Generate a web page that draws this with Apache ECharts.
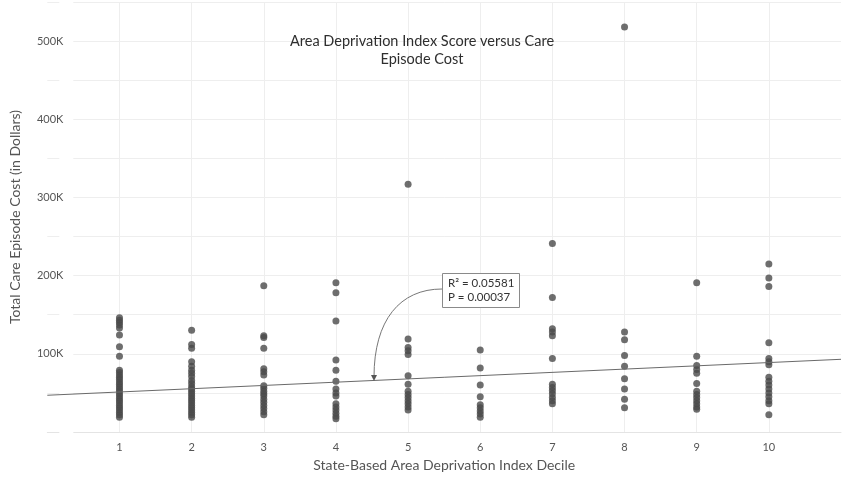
<!DOCTYPE html>
<html>
<head>
<meta charset="utf-8">
<script src="https://cdn.jsdelivr.net/npm/echarts@6/dist/echarts.min.js"></script>
<style>html,body{margin:0;padding:0;background:#fff}#c{width:844px;height:477px}</style>
</head>
<body>
<div id="c"></div>
<script>
var deciles = [1, 2, 3, 4, 5, 6, 7, 8, 9, 10];
var cost1 = [146000, 143000, 140000, 137000, 133000, 124000, 109000, 97000, 79000, 76000, 73000, 70000, 67000, 64000, 61000, 58000, 55000, 52000, 49000, 46000, 43000, 40000, 37000, 34000, 31000, 28000, 25000, 22000, 19000];
var cost2 = [130000, 112000, 107000, 90000, 84000, 79000, 75000, 71000, 66000, 62000, 58000, 55000, 52000, 49000, 46000, 43000, 40000, 37000, 34000, 31000, 28000, 25000, 22000, 19000];
var cost3 = [187000, 123000, 121000, 107000, 81000, 77000, 73000, 59000, 56000, 52000, 49000, 46000, 42000, 38000, 34000, 30000, 26000, 22000];
var cost4 = [191000, 178000, 142000, 92000, 79000, 65000, 55000, 50000, 46000, 36000, 32000, 28000, 24000, 20000, 17000];
var cost5 = [317000, 119000, 108000, 104000, 99000, 72000, 61000, 52000, 48000, 44000, 40000, 36000, 32000, 28000];
var cost6 = [105000, 82000, 60000, 45000, 35000, 31000, 27000, 23000, 19000];
var cost7 = [241000, 172000, 132000, 128000, 123000, 94000, 61000, 57000, 53000, 49000, 44000, 40000, 36000];
var cost8 = [518000, 128000, 118000, 98000, 84000, 68000, 55000, 42000, 31000];
var cost9 = [191000, 97000, 85000, 80000, 75000, 62000, 52000, 48000, 44000, 40000, 36000, 32000, 29000];
var cost10 = [215000, 197000, 186000, 114000, 94000, 90000, 86000, 70000, 65000, 60000, 55000, 50000, 45000, 40000, 36000, 22000];
var costsByDecile = [cost1, cost2, cost3, cost4, cost5, cost6, cost7, cost8, cost9, cost10];
var fitX = [0, 11];
var fitY = [47000, 93000];
var yTickLabels = ['100K', '200K', '300K', '400K', '500K'];
var titleText = 'Area Deprivation Index Score versus Care\nEpisode Cost';
var statText = ['R\u00b2 = 0.05581', 'P = 0.00037'];

var scatterData = [];
deciles.forEach(function (d, i) {
  costsByDecile[i].forEach(function (v) { scatterData.push([d, v]); });
});
var fitData = fitX.map(function (x, i) { return [x, fitY[i]]; });

var FONT = 'Lato, "Open Sans", sans-serif';
var chart = echarts.init(document.getElementById('c'), null, { renderer: 'canvas' });
chart.setOption({
  backgroundColor: '#fff',
  animation: false,
  title: {
    text: titleText,
    left: 'center',
    top: 27,
    textStyle: { fontFamily: FONT, fontSize: 14.5, fontWeight: 'normal', color: '#2e2e2e', lineHeight: 18 }
  },
  grid: { left: 46, right: 3, top: 0, bottom: 37 },
  xAxis: {
    type: 'value', min: 0, max: 11, interval: 1,
    name: 'State-Based Area Deprivation Index Decile',
    nameLocation: 'middle', nameGap: 26,
    nameTextStyle: { fontFamily: FONT, fontSize: 14, color: '#555' },
    axisLine: { show: true, lineStyle: { color: '#e4e4e4', width: 1 } },
    axisTick: { show: false },
    splitLine: { show: false },
    axisLabel: {
      fontFamily: FONT, fontSize: 11, color: '#555', margin: 10,
      formatter: function (v) { return deciles.indexOf(v) >= 0 ? String(v) : ''; }
    }
  },
  yAxis: {
    type: 'value', min: 0, max: 550000, interval: 50000,
    name: 'Total Care Episode Cost (in Dollars)',
    nameLocation: 'middle', nameGap: 24, nameRotate: 90,
    nameTextStyle: { fontFamily: FONT, fontSize: 14, color: '#555' },
    axisLine: { show: false },
    axisTick: { show: false },
    splitLine: { show: true, lineStyle: { color: '#eeeeee', width: 1 } },
    axisLabel: {
      fontFamily: FONT, fontSize: 11, color: '#555', margin: -26,
      backgroundColor: '#fff', padding: [2, 10, 2, 4],
      formatter: function (v) {
        var s = (v / 1000) + 'K';
        return yTickLabels.indexOf(s) >= 0 ? s : '';
      }
    }
  },
  series: [
    {
      type: 'scatter',
      data: scatterData,
      symbolSize: 7,
      itemStyle: { color: '#4a4a4a' },
      z: 3,
      markLine: {
        silent: true, symbol: 'none', label: { show: false },
        lineStyle: { color: '#eeeeee', width: 1, type: 'solid' },
        data: deciles.map(function (d) { return { xAxis: d }; }),
        z: 1
      }
    },
    {
      type: 'line',
      data: fitData,
      showSymbol: false,
      lineStyle: { color: '#6a6a6a', width: 1 },
      z: 4
    }
  ],
  graphic: [
    {
      type: 'rect', shape: { x: 442.5, y: 273.5, width: 77, height: 34 },
      style: { fill: '#fff', stroke: '#8a8a8a', lineWidth: 1 }, z: 10
    },
    {
      type: 'text', x: 448, y: 276,
      style: { text: statText.join('\n'), fontFamily: FONT, fontSize: 11.5, fill: '#333', lineHeight: 14 }, z: 11
    },
    {
      type: 'bezierCurve',
      shape: { x1: 442, y1: 289, x2: 374, y2: 377, cpx1: 400, cpy1: 289, cpx2: 374, cpy2: 320 },
      style: { stroke: '#777', lineWidth: 1, fill: null }, z: 10
    },
    {
      type: 'polygon',
      shape: { points: [[371, 375], [377, 375], [374, 381]] },
      style: { fill: '#555' }, z: 10
    }
  ]
});
</script>
</body>
</html>
